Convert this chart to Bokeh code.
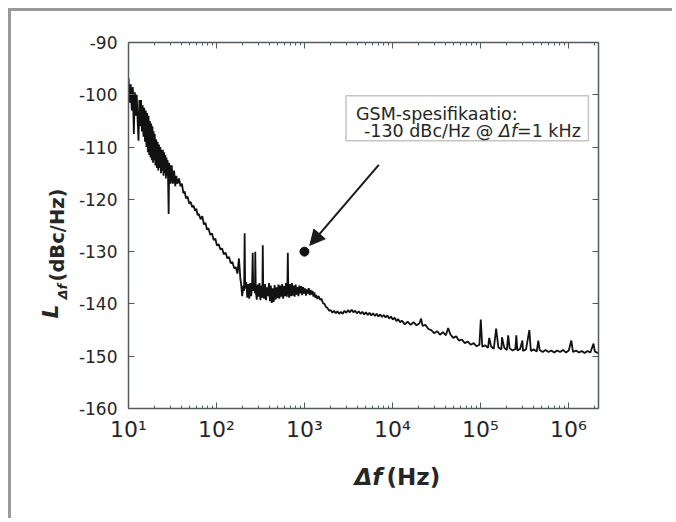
from bokeh.plotting import figure
from bokeh.models import (FixedTicker, LogAxis, LinearAxis, Range1d, CustomJSTickFormatter,
                          Label, BoxAnnotation, Arrow, NormalHead)
from bokeh.embed import file_html
from bokeh.resources import INLINE

# ---------------- data ----------------
# 10 Hz - 30 Hz : dense noisy band
f_A = [10.0, 10.3, 10.6, 10.9, 11.2, 11.5, 11.8, 12.1, 12.4, 12.7,
       13.0, 13.3, 13.6, 13.9, 14.2, 14.5, 14.8, 15.1, 15.4, 15.7,
       16.0, 16.3, 16.6, 16.9, 17.2, 17.5, 17.8, 18.1, 18.4, 18.7,
       19.0, 19.3, 19.6, 19.9, 20.2, 20.6, 21.0, 21.4, 21.8, 22.2,
       22.6, 23.0, 23.4, 23.8, 24.2, 24.6, 25.0, 25.4, 25.8, 26.2,
       26.6, 27.0, 27.4, 27.8, 28.2, 28.6, 29.0, 29.4, 29.8, 30.2]
L_A = [-96.8, -101.5, -98.0, -103.0, -98.5, -107.5, -99.5, -104.0, -100.0, -105.0,
       -108.8, -101.0, -106.0, -101.0, -107.0, -102.0, -108.0, -102.5, -109.0, -103.0,
       -110.0, -103.5, -111.0, -104.0, -111.5, -105.0, -112.0, -105.5, -112.5, -106.0,
       -113.0, -107.0, -112.5, -107.5, -113.5, -108.5, -114.0, -109.0, -114.5, -109.5,
       -114.0, -110.0, -115.0, -110.5, -114.5, -110.5, -115.5, -111.0, -115.0, -111.5,
       -116.0, -112.0, -115.5, -112.5, -116.5, -122.8, -113.0, -116.5, -113.5, -117.0]

# 30 Hz - 190 Hz : steep slope
f_B = [31, 32, 33, 34, 35, 36, 37.5, 39, 40.5, 42,
       43.5, 45, 47, 49, 51, 53, 55, 57, 59, 61,
       63, 66, 69, 72, 75, 78, 81, 85, 89, 93,
       97, 101, 106, 111, 116, 121, 127, 133, 139, 145,
       152, 159, 166, 173, 180, 187]
L_B = [-113.5, -117.0, -114.5, -117.5, -115.5, -117.0, -116.0, -117.5, -117.0, -118.8,
       -118.5, -119.8, -119.5, -120.8, -120.5, -121.5, -121.2, -122.2, -121.8, -123.0,
       -122.8, -123.8, -123.2, -124.8, -124.5, -125.8, -125.5, -126.8, -126.5, -127.8,
       -127.5, -128.8, -128.6, -129.6, -129.4, -130.5, -130.2, -131.3, -131.0, -132.2,
       -132.0, -133.2, -133.0, -134.2, -131.3, -135.2]

# 190 Hz - 1.4 kHz : noisy band with spurs
f_C = [190, 196, 202, 206, 209, 212, 218, 224, 230, 236,
       242, 248, 254, 258, 262, 268, 274, 276, 280, 287,
       294, 301, 308, 316, 324, 332, 336, 340, 348, 357,
       366, 375, 385, 395, 405, 415, 425, 436, 447, 458,
       470, 482, 494, 506, 519, 532, 545, 559, 573, 587,
       602, 617, 632, 640, 647, 655, 670, 686, 703, 720,
       738, 756, 775, 794, 814, 834, 855, 876, 898, 920,
       943, 966, 990, 1015, 1040, 1066, 1092, 1119, 1147, 1175,
       1204, 1234, 1265, 1296, 1328, 1361, 1395]
L_C = [-136.0, -138.5, -136.5, -137.5, -126.5, -137.0, -135.8, -138.8, -136.2, -139.0,
       -136.0, -138.5, -136.5, -130.2, -137.5, -136.0, -138.0, -130.0, -137.5, -139.2,
       -136.3, -138.6, -136.0, -139.3, -136.5, -138.8, -128.8, -137.5, -139.0, -136.2,
       -139.3, -136.8, -138.5, -136.0, -139.5, -136.5, -139.8, -137.0, -139.6, -136.4,
       -139.2, -136.8, -138.9, -136.3, -139.0, -136.5, -138.6, -136.2, -139.0, -136.6,
       -138.5, -136.0, -138.6, -136.5, -130.2, -137.0, -138.8, -136.2, -138.5, -136.0,
       -138.4, -136.5, -138.6, -136.3, -138.2, -136.8, -138.5, -136.5, -138.0, -136.6,
       -138.3, -136.8, -138.0, -137.0, -138.4, -137.2, -138.0, -137.0, -138.3, -137.3,
       -138.2, -137.5, -138.6, -137.8, -138.8, -138.3, -139.0]

# 1.4 kHz - 12 kHz : smooth plateau
f_D = [1450, 1500, 1560, 1620, 1690, 1760, 1830, 1910, 1990, 2080,
       2170, 2270, 2370, 2480, 2600, 2720, 2850, 2990, 3130, 3280,
       3440, 3600, 3770, 3950, 4140, 4340, 4550, 4770, 5000, 5240,
       5490, 5750, 6030, 6320, 6620, 6940, 7270, 7620, 7990, 8370,
       8770, 9190, 9630, 10100, 10600, 11100, 11600, 12200]
L_D = [-138.5, -139.2, -139.0, -139.8, -140.0, -140.6, -140.8, -141.3, -141.2, -141.7,
       -141.3, -141.8, -141.4, -141.9, -141.5, -141.9, -141.3, -141.7, -141.2, -141.6,
       -141.1, -141.6, -141.3, -141.8, -141.4, -141.9, -141.5, -142.0, -141.6, -142.1,
       -141.7, -142.2, -141.8, -142.3, -141.9, -142.4, -142.0, -142.5, -142.1, -142.6,
       -142.2, -142.8, -142.4, -143.0, -142.6, -143.3, -142.9, -143.5]

# 12 kHz - 2.2 MHz : noise floor with spurs
f_E = [12800, 13800, 14900, 16100, 17400, 18800, 20300, 21200, 22000, 23700,
       25600, 27600, 29800, 32200, 34800, 37500, 40500, 43000, 45500, 49000,
       53000, 57000, 61500, 66500, 72000, 77500, 84000, 90500, 97500, 101000,
       105000, 113000, 122000, 126000, 132000, 142000, 151000, 160000, 173000, 176000,
       187000, 200000, 207000, 215000, 232000, 250000, 256000, 263000, 283000, 300000,
       305000, 330000, 360000, 375000, 405000, 437000, 455000, 472000, 510000, 550000,
       595000, 640000, 690000, 745000, 805000, 870000, 940000, 1010000, 1080000, 1130000,
       1220000, 1320000, 1420000, 1530000, 1650000, 1780000, 1930000, 2000000, 2150000, 2250000]
L_E = [-143.2, -143.9, -143.4, -144.0, -143.5, -144.1, -143.7, -142.8, -144.2, -144.0,
       -144.8, -145.0, -145.6, -145.2, -145.9, -145.4, -146.0, -144.6, -145.8, -146.5,
       -146.2, -147.0, -146.8, -147.5, -147.2, -147.8, -147.5, -148.1, -147.8, -143.0,
       -148.2, -147.9, -148.4, -146.5, -148.1, -148.6, -144.7, -148.3, -148.7, -146.4,
       -148.4, -148.8, -146.0, -148.5, -148.9, -148.6, -146.0, -148.9, -148.6, -147.0,
       -149.0, -148.7, -145.0, -149.0, -148.7, -149.1, -147.0, -148.8, -149.2, -148.8,
       -149.2, -148.9, -149.3, -148.9, -149.2, -148.8, -149.3, -148.9, -147.0, -149.2,
       -148.9, -149.3, -149.0, -149.4, -149.0, -149.3, -147.6, -149.1, -149.4, -149.2]

# GSM specification point
spec_f = [1000]
spec_L = [-130]

x_ticks = [10, 100, 1000, 10000, 100000, 1000000]
y_ticks = [-160, -150, -140, -130, -120, -110, -100, -90]

freq = f_A + f_B + f_C + f_D + f_E
level = L_A + L_B + L_C + L_D + L_E

# ---------------- figure ----------------
FONT = "DejaVu Sans"
AX = "#505a62"
TXT = "#262626"

p = figure(width=664, height=510, x_axis_type="log",
           x_range=Range1d(10, 2.2e6), y_range=Range1d(-160, -90),
           output_backend="svg", toolbar_location=None,
           min_border_left=117, min_border_right=77, min_border_top=31, min_border_bottom=113)
p.styles = {"margin-left": "8px", "margin-top": "8px",
            "border-top": "3px solid #9a9a9a", "border-left": "3px solid #9a9a9a"}
p.xgrid.visible = False
p.ygrid.visible = False
p.outline_line_color = None
p.background_fill_color = "white"
p.border_fill_color = "white"

minor = [m * 10 ** k for k in range(1, 7) for m in range(2, 10)]
xticker = FixedTicker(ticks=x_ticks, minor_ticks=minor)
yticker = FixedTicker(ticks=y_ticks)

sup = CustomJSTickFormatter(code="""
const s = {1:'\\u00b9', 2:'\\u00b2', 3:'\\u00b3', 4:'\\u2074', 5:'\\u2075', 6:'\\u2076'};
const e = Math.round(Math.log10(tick));
return '10' + s[e];
""")
plain = CustomJSTickFormatter(code="return String(Math.round(tick));")
blank = CustomJSTickFormatter(code="return '';")


def style(ax):
    ax.axis_line_color = AX
    ax.axis_line_width = 1.5
    ax.major_tick_line_color = AX
    ax.minor_tick_line_color = AX
    ax.major_tick_in = 6
    ax.major_tick_out = 0
    ax.minor_tick_in = 3
    ax.minor_tick_out = 0
    ax.major_label_text_font = FONT
    ax.major_label_text_color = TXT


xa = p.xaxis[0]
xa.ticker = xticker
xa.formatter = sup
style(xa)
xa.major_label_text_font_size = "22px"
xa.major_label_standoff = 8

ya = p.yaxis[0]
ya.ticker = yticker
ya.formatter = plain
style(ya)
ya.major_label_text_font_size = "17px"
ya.major_label_standoff = 11

top = LogAxis(ticker=xticker, formatter=blank)
style(top)
p.add_layout(top, "above")
right = LinearAxis(ticker=yticker, formatter=blank)
style(right)
p.add_layout(right, "right")

# curve
p.line(freq, level, line_color="#111111", line_width=1.8)

# annotation box + text
p.add_layout(BoxAnnotation(left=2965, right=1.69e6, top=-100.2, bottom=-108.8,
                           fill_color="white", fill_alpha=1.0,
                           line_color="#3a3a3a", line_width=1.5))
common = dict(text_font=FONT, text_font_size="17.5px", text_color=TXT, text_baseline="middle")
p.add_layout(Label(x=3850, y=-103.6, text="GSM-spesifikaatio:", **common))
p.add_layout(Label(x=4750, y=-106.9, text="-130 dBc/Hz @ ", **common))
p.add_layout(Label(x=4750, y=-106.9, x_offset=135, text="\u0394f", text_font_style="italic", **common))
p.add_layout(Label(x=4750, y=-106.9, x_offset=153, text="=1 kHz", **common))

# arrow and spec point
p.add_layout(Arrow(end=NormalHead(size=15, fill_color="#1a1a1a", line_color="#1a1a1a"),
                   x_start=7000, y_start=-113.4, x_end=1150, y_end=-128.8,
                   line_color="#1a1a1a", line_width=2))
p.scatter(spec_f, spec_L, size=9, color="#111111")

# axis titles: canvas units (x right, y down), placed in side panels so they are not clipped
ttl = dict(x_units="canvas", y_units="canvas", text_font=FONT, text_color=TXT, text_baseline="middle")
p.add_layout(Label(x=36, y=304, text="L", angle=90, angle_units="deg",
                   text_font_style="bold italic", text_font_size="22px", **ttl), "left")
p.add_layout(Label(x=48, y=285, text="\u0394f", angle=90, angle_units="deg",
                   text_font_style="bold italic", text_font_size="13px", **ttl), "left")
p.add_layout(Label(x=43, y=267, text="(dBc/Hz)", angle=90, angle_units="deg",
                   text_font_style="bold", text_font_size="19.5px", **ttl), "left")
p.add_layout(Label(x=340, y=462, text="\u0394f",
                   text_font_style="bold italic", text_font_size="23px", **ttl), "below")
p.add_layout(Label(x=372, y=462, text="(Hz)",
                   text_font_style="bold", text_font_size="23px", **ttl), "below")

open("out.html", "w", encoding="utf-8").write(file_html(p, INLINE))
